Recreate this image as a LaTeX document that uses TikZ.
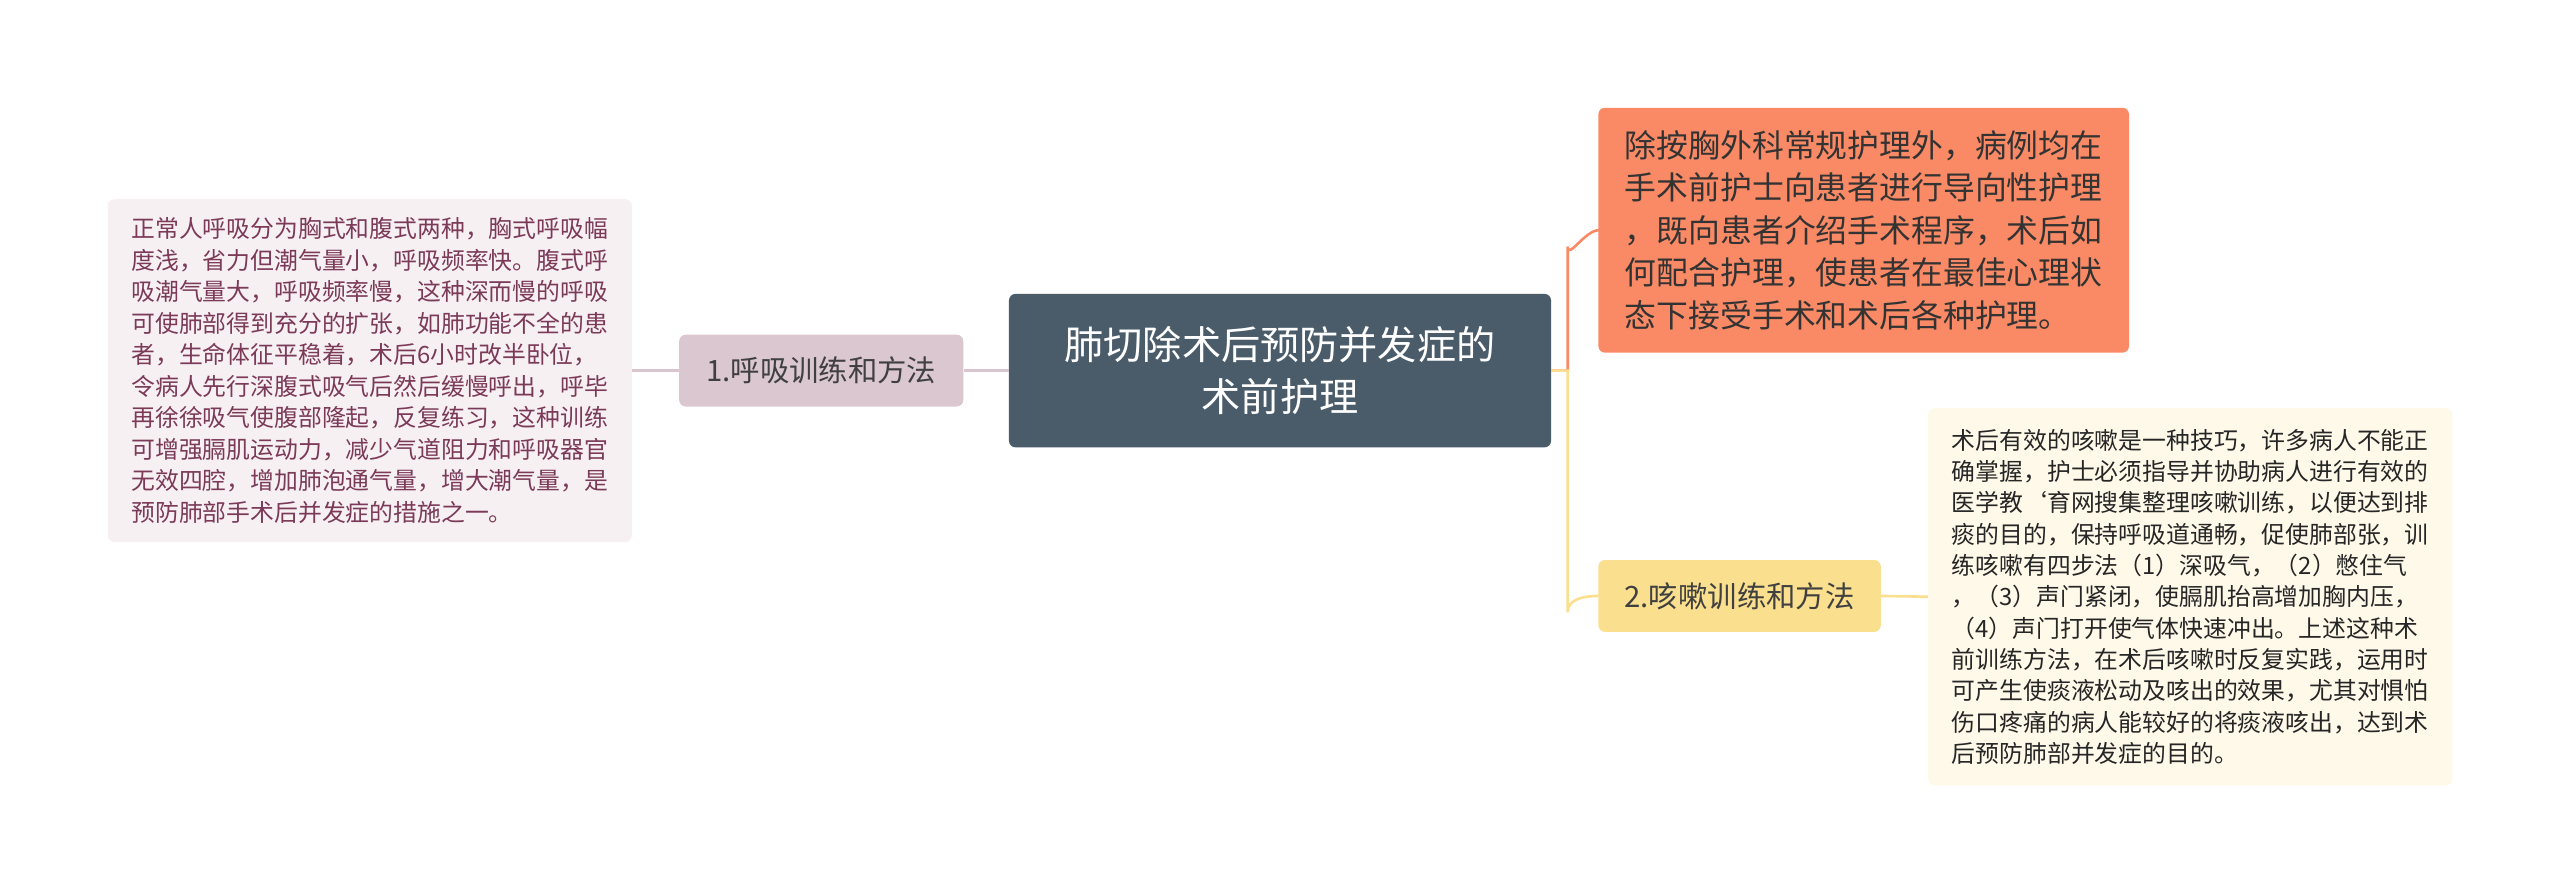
\documentclass[tikz,border=0pt]{standalone}
\usepackage{fontspec}
\setmainfont{Noto Sans CJK SC}
\begin{document}
\begin{tikzpicture}[x=1pt,y=-1pt,
 box/.style={rounded corners=4pt,inner sep=0pt,align=left},
 con/.style={line width=1.6pt}]
\useasboundingbox (0,0) rectangle (1568,547);
\definecolor{cen}{HTML}{4A5B6A}
\definecolor{lb}{HTML}{DAC7D0}
\definecolor{ll}{HTML}{F7F0F3}
\definecolor{lt}{HTML}{7B3A58}
\definecolor{org}{HTML}{FA8A65}
\definecolor{yel}{HTML}{FADF8E}
\definecolor{rl}{HTML}{FFF9E9}
\definecolor{lineL}{HTML}{D9C5CE}
\node[box,fill=cen,minimum width=332pt,minimum height=94pt,text=white,align=center,font=\fontsize{24}{32}\selectfont] (c) at (784,227) {肺切除术后预防并发症的\\术前护理};
\node[box,fill=lb,minimum width=174pt,minimum height=44pt,text=black!75,font=\fontsize{18}{22}\selectfont] (l1) at (503,227) {1.呼吸训练和方法};
\node[box,fill=ll,minimum width=321pt,minimum height=210pt,text=lt,font=\fontsize{14.6}{19.3}\selectfont] (l2) at (226.5,227) {正常人呼吸分为胸式和腹式两种，胸式呼吸幅\\度浅，省力但潮气量小，呼吸频率快。腹式呼\\吸潮气量大，呼吸频率慢，这种深而慢的呼吸\\可使肺部得到充分的扩张，如肺功能不全的患\\者，生命体征平稳着，术后6小时改半卧位，\\令病人先行深腹式吸气后然后缓慢呼出，呼毕\\再徐徐吸气使腹部隆起，反复练习，这种训练\\可增强膈肌运动力，减少气道阻力和呼吸器官\\无效四腔，增加肺泡通气量，增大潮气量，是\\预防肺部手术后并发症的措施之一。};
\node[box,fill=org,minimum width=325pt,minimum height=150pt,text=black!80,font=\fontsize{19.5}{26}\selectfont] (o) at (1141.5,141) {除按胸外科常规护理外，病例均在\\手术前护士向患者进行导向性护理\\，既向患者介绍手术程序，术后如\\何配合护理，使患者在最佳心理状\\态下接受手术和术后各种护理。};
\node[box,fill=yel,minimum width=173pt,minimum height=44pt,text=black!75,font=\fontsize{18}{22}\selectfont] (y1) at (1065.5,365) {2.咳嗽训练和方法};
\node[box,fill=rl,minimum width=321pt,minimum height=231pt,text=black!85,font=\fontsize{14.6}{19.2}\selectfont] (y2) at (1341.5,365.5) {术后有效的咳嗽是一种技巧，许多病人不能正\\确掌握，护士必须指导并协助病人进行有效的\\医学教`育网搜集整理咳嗽训练，以便达到排\\痰的目的，保持呼吸道通畅，促使肺部张，训\\练咳嗽有四步法（1）深吸气，（2）憋住气\\，（3）声门紧闭，使膈肌抬高增加胸内压，\\（4）声门打开使气体快速冲出。上述这种术\\前训练方法，在术后咳嗽时反复实践，运用时\\可产生使痰液松动及咳出的效果，尤其对惧怕\\伤口疼痛的病人能较好的将痰液咳出，达到术\\后预防肺部并发症的目的。};
\draw[con,lineL] (c.west) -- (l1.east);
\draw[con,lineL] (l1.west) -- (l2.east);
\draw[con,org] (c.east) -- ++(10,0) coordinate (k1) -- ([yshift=-10pt]k1|-o.west) to[out=-90,in=180] ([xshift=19pt]k1|-o.west) -- (o.west);
\draw[con,yel] (c.east) -- ++(10,0) coordinate (k2) -- ([yshift=-10pt]k2|-y1.west) to[out=90,in=180] ([xshift=19pt]k2|-y1.west) -- (y1.west);
\draw[con,yel] (y1.east) -- (y2.west);
\end{tikzpicture}
\end{document}
